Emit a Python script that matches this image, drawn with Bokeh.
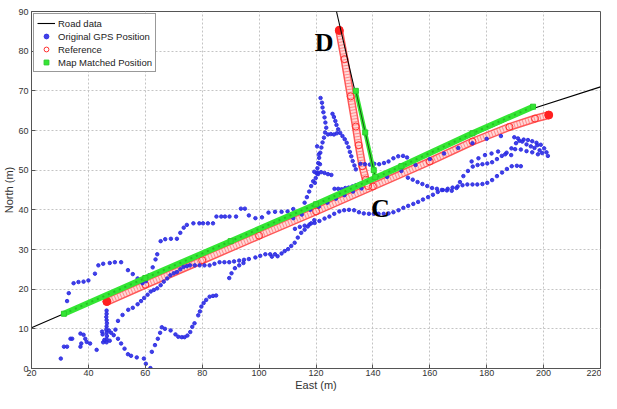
import math
from bokeh.plotting import figure
from bokeh.models import Label, Legend, LegendItem
from bokeh.embed import file_html
from bokeh.resources import INLINE

# ---------------- data ----------------
x_ticks = [20, 40, 60, 80, 100, 120, 140, 160, 180, 200, 220]
y_ticks = [0, 10, 20, 30, 40, 50, 60, 70, 80, 90]

road1_x = [20, 120, 196.6, 220]
road1_y = [10.3, 41.3, 65.6, 71.0]
road2_x = [127.2, 140.8]
road2_y = [90.0, 47.9]

ref1_x = [46.4, 60, 80, 100, 120, 140, 160, 175, 188, 197, 201.8]
ref1_y = [16.8, 21.1, 27.3, 33.5, 39.6, 45.9, 52.2, 57.2, 60.9, 63.0, 63.9]
ref2_x = [128.1, 130.0, 132.2, 134.0, 135.0, 136.3, 137.5, 138.3]
ref2_y = [85.4, 78.0, 68.6, 61.0, 56.3, 51.0, 47.6, 46.0]
ref_end_x = [128.2, 201.8, 46.5]
ref_end_y = [85.2, 63.9, 16.9]

mm1_x = [31.4, 60, 90, 120, 150, 175, 196.3]
mm1_y = [13.8, 22.8, 32.1, 41.4, 51.0, 59.3, 66.0]
mm2_x = [134.0, 137.3, 140.3, 140.8]
mm2_y = [70.0, 59.5, 50.0, 48.3]

# original GPS positions, read trace by trace
gps_a_x = [30.3, 31.4, 32.5, 33.7, 34.3, 37.2, 37.5, 38.3, 38.9, 39.4, 40.6, 42.9, 37.2,
           32.5, 33.1, 34.8, 36.5, 38.3, 40.0, 42.3, 43.5, 45.2, 47.5, 49.3, 51.5, 53.9,
           55.6, 57.3, 59.0, 60.2, 61.3, 62.6, 63.6, 64.2, 65.4, 67.0, 69.0, 71.1, 72.3,
           73.5, 74.6, 76.9, 79.0, 80.3, 82.0, 83.8, 85.0, 86.7, 88.0, 89.6, 91.9, 93.6,
           95.0, 96.4, 98.7, 101.0, 103.3, 105.6, 107.9, 110.0, 112.0]
gps_a_y = [2.5, 5.5, 5.5, 7.5, 7.5, 8.8, 6.3, 8.5, 7.5, 6.7, 6.3, 4.7, 5.5,
           17.0, 19.0, 21.5, 21.8, 21.9, 22.2, 23.9, 26.0, 26.4, 26.6, 26.8, 26.8, 24.8,
           23.8, 22.7, 21.5, 22.0, 23.5, 25.5, 27.5, 28.8, 32.1, 32.6, 32.7, 32.7, 34.2,
           35.5, 36.2, 36.6, 36.6, 36.6, 36.6, 36.6, 38.3, 38.3, 38.3, 38.3, 38.3, 40.3,
           40.3, 38.6, 37.9, 38.1, 39.3, 39.5, 39.5, 39.6, 40.2]

gps_b_x = [50.4, 52.0, 54.0, 55.6, 57.3, 58.5, 59.6, 60.8, 61.9, 63.0, 64.2, 65.4, 66.5,
           67.7, 68.8, 70.0, 71.1, 72.3, 73.4, 74.6, 75.7, 77.4, 79.1, 80.8, 82.6, 84.3,
           86.1, 87.8, 89.5, 91.2, 93.0, 94.7, 96.4, 98.7, 100.4, 102.2, 103.9, 105.6,
           107.9, 109.0, 110.2, 111.3, 112.5, 113.6, 114.8, 116.0, 117.1, 118.3, 119.4,
           89.5, 90.3, 91.5, 93.0, 94.5, 104.5, 106.5]
gps_b_y = [12.0, 13.5, 14.8, 15.3, 16.2, 17.0, 17.8, 18.6, 19.4, 19.8, 20.2, 21.0, 21.9,
           22.7, 23.5, 24.0, 24.3, 25.0, 25.6, 25.8, 26.0, 26.0, 26.0, 26.0, 26.0, 26.4,
           26.8, 26.8, 26.8, 27.0, 27.2, 27.4, 27.6, 28.0, 28.4, 28.8, 28.8, 28.8,
           29.0, 29.6, 30.1, 30.9, 31.7, 33.0, 34.2, 35.0, 35.8, 36.6, 37.4,
           22.8, 24.0, 25.3, 26.0, 26.6, 28.2, 28.3]

gps_c_x = [46.4, 46.4, 46.3, 46.4, 46.5, 46.4, 46.3, 46.4, 46.5, 46.4, 46.4,
           45.0, 45.6, 47.2, 48.0, 48.9, 49.5, 47.5, 45.2, 44.8,
           50.4, 51.5, 52.7, 53.9, 55.0, 57.0, 59.5, 60.2, 61.8,
           62.3, 63.4, 64.4, 65.2, 65.8, 66.9, 68.9, 70.6, 71.6, 72.8, 73.8, 74.8, 75.8,
           76.5, 77.3, 78.6, 79.2, 79.7, 80.5, 81.4, 82.6, 83.8, 84.9]
gps_c_y = [14.6, 13.8, 13.0, 12.2, 11.4, 10.6, 9.8, 9.0, 8.2, 7.4, 6.6,
           8.6, 7.2, 9.6, 9.0, 8.4, 9.8, 7.0, 6.6, 9.3,
           7.5, 6.3, 5.0, 3.6, 3.2, 2.8, 2.5, 1.2, 0.1,
           4.2, 5.9, 7.5, 9.0, 10.4, 10.0, 9.6, 8.6, 8.0, 7.9, 7.9, 8.3, 9.2,
           10.5, 11.4, 13.4, 14.4, 15.6, 16.5, 17.3, 18.1, 18.3, 18.4]

gps_spike_x = [116.0, 116.8, 117.6, 118.3, 119.0, 119.6, 119.9, 120.2, 120.5, 120.8, 121.1,
               121.5, 121.9, 122.3, 122.8, 123.2, 123.6, 123.3, 123.0, 122.6, 122.3, 122.1,
               121.6, 120.4, 121.0, 121.4, 120.7,
               125.8, 126.3, 126.8, 127.2, 127.8, 128.5, 129.3, 130.1, 130.8, 131.4, 131.9,
               132.4, 132.9, 133.5, 134.0, 124.2, 125.2, 126.3, 127.3,
               119.4, 120.6, 121.8, 123.0, 124.2, 125.4,
               126.5, 127.8, 129.0, 130.3, 131.5, 132.8, 134.0, 135.2,
               135.6, 137.2, 138.9, 140.5, 142.2, 143.9, 145.5, 147.2, 148.9, 150.6, 152.0]
gps_spike_y = [41.8, 43.2, 44.6, 46.0, 47.2, 46.8, 48.0, 49.2, 50.5, 51.8, 53.1,
               54.4, 55.7, 57.0, 58.2, 59.5, 60.7, 62.0, 63.3, 64.6, 65.8, 67.0,
               68.2, 56.0, 54.0, 51.5, 49.0,
               64.2, 63.4, 62.4, 61.4, 60.3, 59.4, 58.6, 57.8, 56.9, 55.8, 54.6,
               53.5, 52.3, 51.2, 50.2, 59.0, 59.1, 59.0, 59.3,
               49.6, 49.4, 49.5, 49.3, 49.0, 48.8,
               45.3, 45.3, 45.2, 45.5, 45.6, 45.9, 46.2, 46.5,
               51.6, 51.5, 51.4, 51.6, 51.5, 51.8, 52.2, 53.0, 53.5, 53.6, 53.2]

gps_road_x = [112.0, 115.0, 118.0, 121.0, 124.0, 127.0, 130.0, 133.0, 136.0,
              145.0, 150.0, 155.0, 160.0, 165.0, 170.0, 175.0, 180.0, 185.0]
gps_road_y = [37.9, 38.8, 40.0, 40.8, 41.8, 42.8, 43.7, 44.6, 45.4,
              48.3, 49.8, 51.3, 52.8, 54.2, 55.6, 56.8, 57.9, 58.6]

gps_low_x = [112.6, 114.3, 116.0, 117.7, 119.5, 121.2, 123.0, 124.7, 126.4, 128.2, 129.9,
             131.6, 133.4, 135.1, 136.8, 138.6, 140.3, 142.0, 143.8, 145.5, 147.2, 149.0,
             150.7, 152.4, 154.2, 155.9, 157.6, 159.4, 161.1, 162.8, 164.6, 166.3, 168.0,
             169.8, 171.5, 173.2, 175.0, 176.7, 178.5, 180.2, 181.9, 183.6, 185.4, 187.1,
             188.8, 190.6, 192.0]
gps_low_y = [35.2, 35.7, 36.0, 36.3, 36.7, 37.2, 37.8, 38.3, 39.0, 39.6, 39.9,
             40.0, 39.9, 39.4, 39.1, 39.0, 39.0, 39.0, 39.0, 39.1, 39.4, 39.9,
             40.5, 41.0, 41.5, 42.0, 42.6, 43.2, 43.8, 44.5, 45.0, 45.3, 45.6,
             45.9, 46.2, 46.4, 46.4, 46.4, 46.5, 46.8, 47.5, 48.5, 49.4, 50.3,
             51.0, 51.1, 51.0]

gps_up_x = [152.3, 154.0, 155.7, 157.4, 159.1, 160.8, 162.5, 164.2, 166.0, 167.7, 169.4,
            170.6, 171.8, 173.4, 175.1, 176.8, 178.5, 180.2, 181.9, 183.6, 185.3, 187.0,
            188.7, 190.3, 191.5, 193.0, 194.5, 196.0, 197.5, 199.0, 200.2, 201.0, 201.5,
            189.7, 191.0, 192.5, 194.0, 195.5, 196.8, 197.8, 198.6, 199.5, 198.0, 196.0,
            194.0, 192.0, 190.0, 188.6, 186.5, 184.0, 181.7, 179.4, 177.1, 174.7]
gps_up_y = [48.1, 47.6, 47.0, 46.5, 46.0, 45.5, 45.3, 45.0, 44.9, 44.8, 45.5,
            47.0, 48.5, 49.8, 50.9, 51.3, 51.5, 51.7, 52.0, 52.8, 53.6, 54.4,
            55.5, 56.8, 57.4, 57.7, 57.6, 57.3, 56.9, 56.4, 55.5, 54.5, 53.6,
            58.3, 58.0, 57.2, 56.5, 56.0, 55.6, 56.3, 55.0, 54.3, 54.0, 54.5,
            54.8, 55.2, 55.3, 53.8, 54.0, 54.7, 54.2, 53.8, 53.0, 52.2]

# ---------------- figure ----------------
p = figure(width=601, height=393, x_range=(20, 220), y_range=(0, 90),
           output_backend="svg", toolbar_location=None,
           x_axis_label="East (m)", y_axis_label="North (m)",
           min_border_left=30, min_border_right=1, min_border_top=11, min_border_bottom=24)
p.background_fill_color = "white"
p.border_fill_color = "white"
p.outline_line_color = "#555555"
p.outline_line_width = 1

for ax in (p.xaxis, p.yaxis):
    ax.major_tick_in = 4
    ax.major_tick_out = 0
    ax.minor_tick_line_color = None
    ax.axis_line_color = "#555555"
    ax.major_tick_line_color = "#555555"
    ax.major_label_text_font = "Liberation Sans"
    ax.major_label_text_font_size = "9px"
    ax.major_label_text_color = "#333333"
    ax.axis_label_text_font = "Liberation Sans"
    ax.axis_label_text_font_size = "11px"
    ax.axis_label_text_font_style = "normal"
    ax.axis_label_text_color = "#333333"
    ax.axis_label_standoff = 0
p.xaxis.ticker = x_ticks
p.yaxis.ticker = y_ticks
p.xaxis.major_label_standoff = 1
p.yaxis.major_label_standoff = 3

p.grid.grid_line_color = "#c4c4c4"
p.grid.grid_line_dash = "2 2"
p.grid.grid_line_width = 1

# GPS (blue)
bx = gps_a_x + gps_b_x + gps_c_x + gps_spike_x + gps_road_x + gps_low_x + gps_up_x
by = gps_a_y + gps_b_y + gps_c_y + gps_spike_y + gps_road_y + gps_low_y + gps_up_y

# Reference (red band of circles)
for rx, ry in ((ref1_x, ref1_y), (ref2_x, ref2_y)):
    p.line(rx, ry, line_width=8, color="#ff3a3a", alpha=0.85)
    p.line(rx, ry, line_width=5, color="#ffd8d8")
    p.line(rx, ry, line_width=5, color="#ff4a4a", line_dash="1 2", alpha=0.55)
ref_pts = p.scatter(ref1_x + ref2_x, ref1_y + ref2_y, marker="circle", size=7,
                    fill_color=None, line_color="#ff3030", line_width=1)
p.scatter(ref_end_x, ref_end_y, marker="circle", size=8, color="#ff2020")

gps = p.scatter(bx, by, marker="circle", size=3.5, color="#2b2be3", alpha=0.9)

road = p.line(road1_x, road1_y, color="black", line_width=1.1)
p.line(road2_x, road2_y, color="black", line_width=1.1)

# Map matched (green)
p.line(mm1_x, mm1_y, line_width=6, color="#33e633")
p.line(mm1_x, mm1_y, line_width=2, color="#1aa81a", line_dash="2 4", alpha=0.6)
p.line(mm2_x, mm2_y, line_width=4, color="#33e633")
p.line(mm2_x, mm2_y, line_width=1, color="#145214")
mm_pts = p.scatter(mm1_x + mm2_x, mm1_y + mm2_y, marker="square", size=5,
                   fill_color="#33e633", line_color="#2bcc2b")

legend = Legend(items=[
    LegendItem(label="Road data", renderers=[road]),
    LegendItem(label="Original GPS Position", renderers=[gps]),
    LegendItem(label="Reference", renderers=[ref_pts]),
    LegendItem(label="Map Matched Position", renderers=[mm_pts]),
], location="top_left")
legend.margin = 2
legend.padding = 3
legend.spacing = 1
legend.label_height = 12
legend.glyph_height = 12
legend.glyph_width = 18
legend.label_standoff = 3
legend.label_text_font = "Liberation Sans"
legend.label_text_font_size = "9.5px"
legend.label_text_color = "#222222"
legend.border_line_color = "#333333"
legend.border_line_width = 1
legend.background_fill_alpha = 1
p.add_layout(legend, "center")

# point labels
p.add_layout(Label(x=122.9, y=82.1, text="D", text_align="center", text_baseline="alphabetic",
                   text_font="Liberation Serif", text_font_style="bold", text_font_size="26px",
                   text_color="black"))
p.add_layout(Label(x=142.6, y=40.3, text="C", text_align="center", text_baseline="alphabetic",
                   text_font="Liberation Serif", text_font_style="bold", text_font_size="26px",
                   text_color="black"))

open("out.html", "w").write(file_html(p, INLINE))
